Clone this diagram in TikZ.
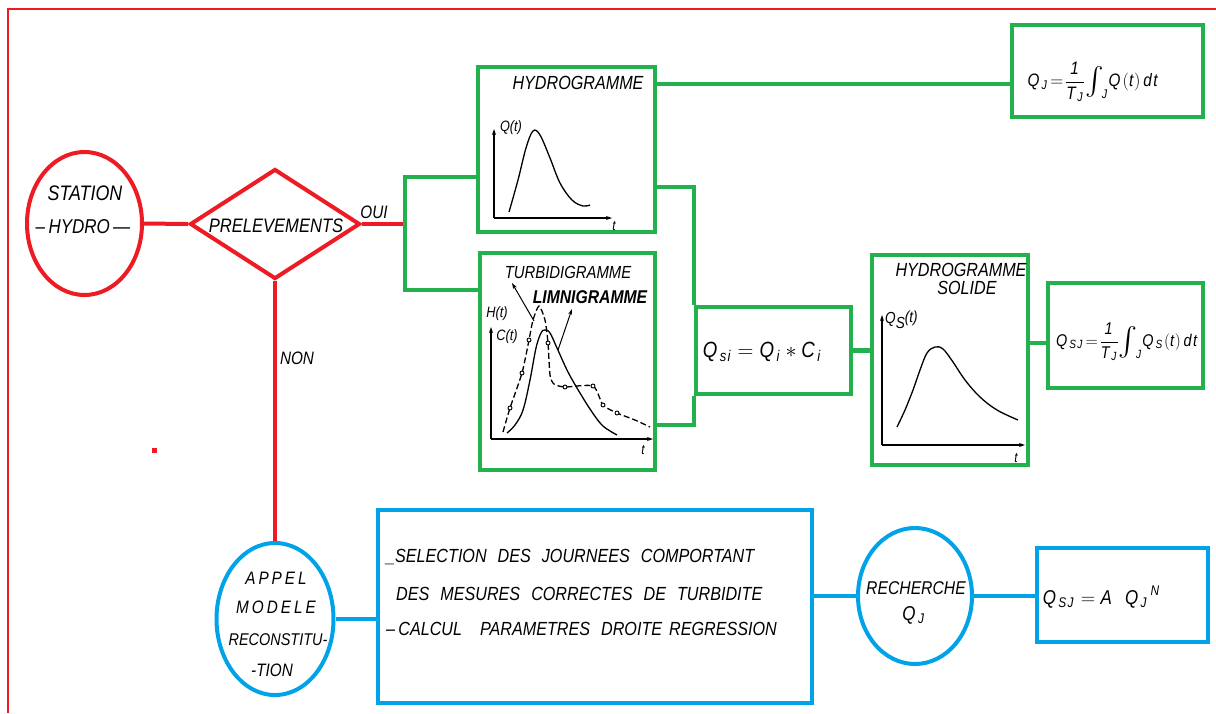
\RequirePackage{fix-cm}
\documentclass[tikz,border=0pt]{standalone}
\usepackage{fontspec}
\setmainfont[FakeStretch=0.85]{Liberation Sans}
\usetikzlibrary{shapes.geometric,arrows.meta,calc}
\definecolor{cred}{RGB}{237,28,36}
\definecolor{cgreen}{RGB}{34,177,76}
\definecolor{cblue}{RGB}{0,162,232}
\newcommand\fs[1]{\fontsize{#1}{#1}\selectfont}
\newcommand\gap{\hspace{11pt}}
\newcommand\bigint{\raisebox{-8pt}{\resizebox{!}{28pt}{$\int$}}}
\begin{document}
\begin{tikzpicture}[x=1pt,y=-1pt,
  redl/.style={draw=cred,line width=4pt},
  greenl/.style={draw=cgreen,line width=4.5pt},
  bluel/.style={draw=cblue,line width=4pt},
  gbox/.style={greenl,rectangle,inner sep=0pt},
  bbox/.style={bluel,rectangle,inner sep=0pt},
  oval/.style={ellipse,inner sep=0pt},
  txt/.style={inner sep=0pt,font=\itshape\fs{17}},
  curve/.style={line width=1.3pt,black},
  ax/.style={line width=1.1pt,black,-{Stealth[length=6pt,width=4pt]}},
  ptr/.style={line width=1pt,black,-{Stealth[length=6pt,width=4pt]}},
  mk/.style={line width=0.9pt,black,fill=white},
]
\useasboundingbox (0,0) rectangle (1216,713);
\fill[white] (0,0) rectangle (1216,713);
% frame
\draw[cred,line width=2pt] (8,713) -- (8,9) -- (1216,9);
\fill[cred] (151.5,447.5) rectangle (156.5,452.5);

% ---------- nodes ----------
\node[redl,oval,minimum width=115pt,minimum height=143pt] (station) at (84.5,223.5) {};
\node[redl,diamond,inner sep=0pt,minimum width=170pt,minimum height=110pt] (prel) at (275,224) {};
\node[gbox,minimum width=177pt,minimum height=165pt] (hydro) at (566.5,149.5) {};
\node[gbox,minimum width=175pt,minimum height=217pt] (turb) at (567.5,361.5) {};
\node[gbox,minimum width=155pt,minimum height=87pt] (qsi) at (773.5,350.5) {};
\node[gbox,minimum width=156pt,minimum height=210pt] (hs) at (950,360) {};
\node[gbox,minimum width=155pt,minimum height=105pt] (qsjint) at (1125.5,335.5) {};
\node[gbox,minimum width=191pt,minimum height=92pt] (qj) at (1107.5,71) {};
\node[bluel,oval,minimum width=117pt,minimum height=152pt] (appel) at (275,619) {};
\node[bbox,minimum width=434pt,minimum height=193pt] (tbox) at (595,606.5) {};
\node[bluel,oval,minimum width=114pt,minimum height=136pt] (rech) at (915,596) {};
\node[bbox,minimum width=171pt,minimum height=94pt] (qsja) at (1122.5,595) {};

% ---------- connectors ----------
\coordinate (split) at (405,224);
\coordinate (b1) at (405,177);
\coordinate (b2) at (405,290);
\coordinate (y84) at (0,84);
\coordinate (y187) at (0,187);
\coordinate (y425) at (0,425);
\coordinate (y343) at (0,343);
\draw[redl] (station.east) -- (prel.west);
\draw[redl] (prel.east) -- (split);
\draw[greenl] (b1 -| hydro.west) -- (b1) -- (b2) -- (b2 -| turb.west);
\draw[greenl] (hydro.east |- y84) -- (qj.west |- y84);
\draw[greenl] (hydro.east |- y187) -- (qsi.west |- y187) -- (qsi.north west);
\draw[greenl] (turb.east |- y425) -- (qsi.west |- y425) -- (qsi.south west);
\draw[greenl] (qsi.east) -- (qsi.east -| hs.west);
\draw[greenl] (hs.east |- y343) -- (qsjint.west |- y343);
\draw[redl] (prel.south) -- (appel.north);
\draw[bluel] (appel.east) -- (appel.east -| tbox.west);
\draw[bluel] (rech.west -| tbox.east) -- (rech.west);
\draw[bluel] (rech.east) -- (rech.east -| qsja.west);

% ---------- texts ----------
\node[txt,font=\itshape\fs{21}] (tstation) at (85,193) {STATION};
\node[txt,font=\itshape\fs{20}] (thydro) at (83,227) {–\,HYDRO\,—};
\node[txt,font=\itshape\fs{19.5}] (tprel) at (276,226) {PRELEVEMENTS};
\node[txt,font=\itshape\fs{18}] (toui) at (374,212) {OUI};
\node[txt,font=\itshape\fs{18}] (tnon) at (297,358) {NON};

\node[txt,font=\itshape\fs{19}] (thydrog) at (578,83) {HYDROGRAMME};
\node[txt,font=\itshape\fs{17.5}] (tturb) at (568,272) {TURBIDIGRAMME};
\node[txt,font=\bfseries\itshape\fs{18.5}] (tlimn) at (590,297) {LIMNIGRAMME};
\node[txt,font=\itshape\fs{19}] (ths1) at (961,270) {HYDROGRAMME};
\node[txt,font=\itshape\fs{19}] (ths2) at (967,288) {SOLIDE};

\node[txt,font=\itshape\fs{18}] (tap1) at (276,578) {A\,P\,P\,E\,L};
\node[txt,font=\itshape\fs{18}] (tap2) at (276,607) {M\,O\,D\,E\,L\,E};
\node[txt,font=\itshape\fs{17}] (tap3) at (278,640) {RECONSTITU-};
\node[txt,font=\itshape\fs{18}] (tap4) at (272,670) {-TION};

\node[txt,font=\itshape\fs{19},anchor=base west] (tl1) at (386,562) {\_SELECTION\gap DES\gap JOURNEES\gap COMPORTANT};
\node[txt,font=\itshape\fs{19},anchor=base west] (tl2) at (396,600) {DES\gap MESURES\gap CORRECTES\gap DE\gap TURBIDITE};
\node[txt,font=\itshape\fs{19},anchor=base west] (tl3) at (386,635) {–\,CALCUL\hspace{18pt}PARAMETRES\gap DROITE\hspace{7pt}REGRESSION};

\node[txt,font=\itshape\fs{18.5}] (trech) at (916,588) {RECHERCHE};
\node[txt,font=\fs{20}] (trq) at (914,615) {$\mathit{Q_J}$};

% formulas
\node[inner sep=0pt,font=\fs{18}] (fqj) at (1093,82) {$\displaystyle\mathit{Q_J}\!=\!\frac{\mathit{1}}{\mathit{T_J}}\bigint_{\!\mathit J}\mathit{Q}(\mathit{t})\,\mathit{dt}$};
\node[inner sep=0pt,font=\fs{17}] (fqsj) at (1127,342) {$\displaystyle\mathit{Q_{SJ}}\!=\!\frac{\mathit{1}}{\mathit{T_J}}\bigint_{\!\mathit J}\mathit{Q_S}(\mathit{t})\,\mathit{dt}$};
\node[inner sep=0pt,font=\fs{22}] (fqsi) at (762,352) {$\mathit{Q_{si}}=\mathit{Q_i}\ast\mathit{C_i}$};
\node[inner sep=0pt,font=\fs{20}] (fqsja) at (1102,597) {$\mathit{Q_{SJ}}=\mathit{A}\;\;\mathit{Q_J}^{\,\mathit N}$};

% ---------- chart: hydrogramme ----------
\draw[ax] (494,218) -- (494,129);
\draw[ax] (494,218) -- (612,218);
\draw[curve] plot[smooth,tension=0.6] coordinates {(509,212) (518,180) (526,148) (533,131) (540,135) (550,158) (560,183) (572,200) (583,206) (590,205)};
\node[txt,font=\itshape\fs{15}] (lq) at (511,128) {Q(t)};
\node[txt,font=\itshape\fs{14}] (lt1) at (614,226) {t};

% ---------- chart: turbidigramme ----------
\draw[ax] (491,439) -- (491,327);
\draw[ax] (491,439) -- (653,439);
\draw[curve] plot[smooth,tension=0.6] coordinates {(507,433) (515,425) (523,410) (530,380) (536,348) (541,333) (545,330) (550,333) (557,348) (568,372) (580,393) (592,412) (603,426) (617,435)};
\draw[curve,dash pattern=on 6pt off 3pt] plot[smooth,tension=0.4] coordinates {(503,432) (510,408) (522,373) (529,340) (533,320) (539,306) (545,320) (548,343) (550,375) (554,384) (565,387) (593,386) (603,405) (617,413) (635,420) (650,427)};
\foreach \p in {(510,408),(522,373),(529,340),(548,343),(565,387),(593,386),(603,405),(617,413)}
  \draw[mk] \p circle (2pt);
\draw[ptr] (534,321) -- (512,283);
\draw[ptr] (558,350) -- (572,309);
\node[txt,font=\itshape\fs{15}] (lh) at (497,314) {H(t)};
\node[txt,font=\itshape\fs{15}] (lc) at (507,337) {C(t)};
\node[txt,font=\itshape\fs{14}] (lt2) at (643,450) {t};

% ---------- chart: hydrogramme solide ----------
\draw[ax] (882,445) -- (882,315);
\draw[ax] (882,445) -- (1025,445);
\draw[curve] plot[smooth,tension=0.6] coordinates {(897,427) (905,410) (913,390) (920,370) (927,353) (935,347) (943,349) (953,362) (965,380) (980,397) (997,410) (1018,420)};
\node[txt,font=\itshape\fs{16},anchor=west] (lqs) at (885,320) {Q\raisebox{-5pt}{S}\raisebox{1pt}{(t)}};
\node[txt,font=\itshape\fs{14}] (lt3) at (1016,458) {t};
\end{tikzpicture}
\end{document}
